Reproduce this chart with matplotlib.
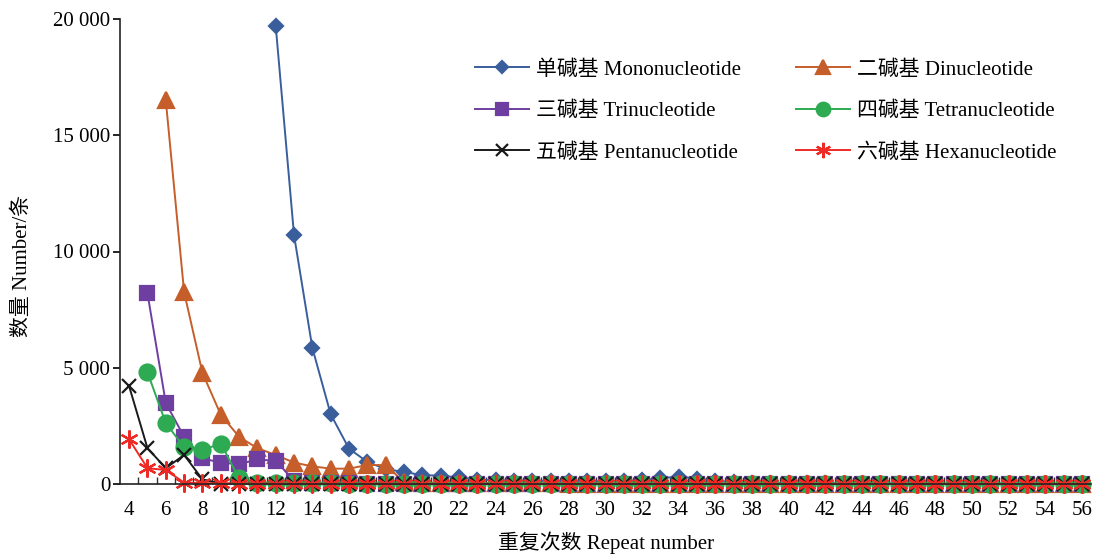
"""SSR repeat-number distribution: count of SSRs per repeat number, by motif type."""
import matplotlib
matplotlib.use("Agg")
from matplotlib import pyplot as plt   # noqa: E402
from matplotlib.ticker import FixedLocator, FuncFormatter   # noqa: E402

FONT = ["Liberation Serif", "Noto Sans CJK SC", "DejaVu Sans"]
plt.rcParams["font.family"] = FONT

nan = float("nan")

repeats = list(range(4, 57))

mono = [nan, nan, nan, nan, nan, nan, nan, nan,
        19700, 10700, 5850, 3000, 1520, 950, 640, 520, 380, 360,
        280, 190, 160, 150, 140, 140, 130, 130, 110, 130,
        160, 250, 320, 230, 140, 80, 50, 40, 30, 30,
        25, 20, 20, 15, 15, 15, 10, 10, 10, 10,
        10, 5, 5, 5, 5]
di = [nan, nan,
      16500, 8250, 4780, 2980, 2030, 1540, 1250, 920, 760, 660,
      660, 820, 810, 90, 60, 50, 40, 35, 30, 30,
      25, 25, 20, 20, 20, 15, 15, 15, 15, 10,
      10, 10, 10, 10, 10, 10, 10, 5, 5, 5,
      5, 5, 5, 5, 5, 5, 5, 5, 5, 5,
      5]
tri = [nan,
       8200, 3480, 2030, 1100, 920, 850, 1060, 990, 150,
       40, 30, 25, 20, 20, 15, 15, 10, 10, 10,
       10, 10, 5, 5, 5, 5, 5, 5, 5, 5,
       5, 5, 5, 5, 5, 5, 5, 5, 5, 5,
       0, 0, 0, 0, 0, 0, 0, 0, 0, 0, 0, 0, 0]
tetra = [nan,
         4800, 2620, 1580, 1460, 1740, 250, 60, 50, 40,
         30, 25, 20, 20, 15, 15, 10, 10, 10, 10,
         10, 10, 10, 10, 10, 5, 5, 5, 5, 5,
         5, 5, 5, 5, 5, 5, 5, 5, 5, 5,
         5, 5, 5, 5, 5, 5, 5, 5, 5, 5, 5, 5, 5]
penta = [4200, 1540, 680, 1250, 200, 20, 10, 10, 5, 5,
         5, 5, 5, 5, 5, 5, 0, 0, 0, 0,
         0, 0, 0, 0, 0, 0, 0, 0, 0, 0,
         0, 0, 0, 0, 0, 0, 0, 0, 0, 0,
         0, 0, 0, 0, 0, 0, 0, 0, 0, 0, 0, 0, 0]
hexa = [1920, 680, 600, 60, 40, 30, 20, 20, 15, 15,
        10, 10, 10, 10, 10, 10, 10, 10, 10, 10,
        5, 5, 5, 5, 5, 5, 5, 5, 5, 5,
        5, 5, 5, 5, 5, 5, 5, 5, 5, 5,
        5, 5, 5, 5, 5, 5, 5, 5, 5, 5, 5, 5, 5]

labels = ["单碱基 Mononucleotide", "二碱基 Dinucleotide", "三碱基 Trinucleotide",
          "四碱基 Tetranucleotide", "五碱基 Pentanucleotide", "六碱基 Hexanucleotide"]

# (color, marker, markersize)
STYLES = [("#3A5E9C", "D", 7.5),
          ("#C55E2A", "^", 12),
          ("#6E3FA0", "s", 9.5),
          ("#2EAA52", "o", 11.5),
          ("#1A1A1A", "x", 10),
          ("#EE2A26", (6, 2, 0), 13)]

FS = 15

fig = plt.figure(figsize=(10.95, 5.55), dpi=100)
ax = fig.add_axes([120 / 1095, 71 / 555, 971 / 1095, 465 / 555])

for ys, lab, (c, m, ms) in zip([mono, di, tri, tetra, penta, hexa], labels, STYLES):
    ax.plot(repeats, ys, color=c, lw=1.4, marker=m, ms=ms, mfc=c, mec=c,
            mew=1.6, label=lab, clip_on=False)

ax.set_xlim(3.5, 56.5)
ax.set_ylim(0, 20000)

ax.xaxis.set_major_locator(FixedLocator(repeats[::2]))
ax.xaxis.set_minor_locator(FixedLocator([r + 0.5 for r in repeats[:-1]]))
ax.tick_params(axis="x", which="major", length=0, pad=12, labelsize=FS)
ax.tick_params(axis="x", which="minor", direction="in", length=5, width=1, color="#333333")
ax.set_yticks([0, 5000, 10000, 15000, 20000])
ax.yaxis.set_major_formatter(FuncFormatter(lambda v, p: f"{int(v):,}".replace(",", " ")))
ax.tick_params(axis="y", direction="out", length=5, width=1.2, pad=2, labelsize=FS)

for s in ("top", "right"):
    ax.spines[s].set_visible(False)
for s in ("left", "bottom"):
    ax.spines[s].set_linewidth(1.2)
    ax.spines[s].set_color("#222222")

fig.text(22 / 1095, 1 - 266 / 555, "数量 Number/条", rotation=90, ha="center", va="center",
         fontsize=FS, family=FONT)
fig.text(606 / 1095, 1 - 543 / 555, "重复次数 Repeat number", ha="center", va="center",
         fontsize=FS, family=FONT)

order = [0, 2, 4, 1, 3, 5]
h, l = ax.get_legend_handles_labels()
fig.legend([h[i] for i in order], [l[i] for i in order], ncol=2, frameon=False,
           loc="upper left", bbox_to_anchor=(475 / 1095, 1 - 60 / 555),
           fontsize=FS, handlelength=2.6, handletextpad=0.35, columnspacing=2.6,
           labelspacing=1.05, markerscale=0.85, borderpad=0, borderaxespad=0)

fig.savefig("out.png", dpi=100)
